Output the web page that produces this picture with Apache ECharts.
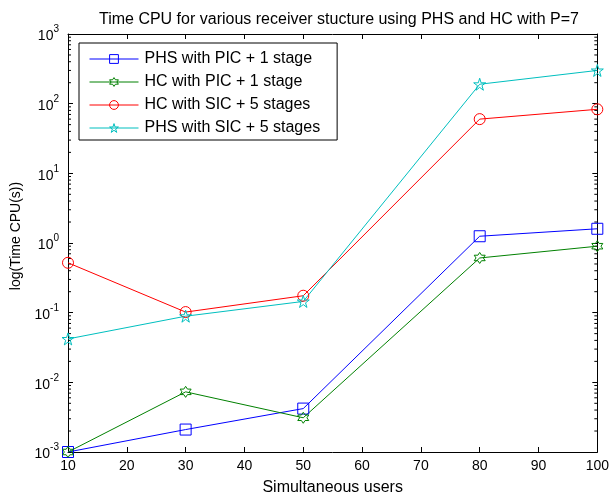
<!DOCTYPE html>
<html><head><meta charset="utf-8">
<script src="https://cdn.jsdelivr.net/npm/echarts@6/dist/echarts.min.js"></script>
<style>html,body{margin:0;padding:0;background:#fff}#c{width:612px;height:501px}</style>
</head><body><div id="c"></div>
<script>
const users = [10, 30, 50, 80, 100];
const phsPic = [0.001, 0.0021, 0.0042, 1.25, 1.6];
const hcPic = [0.001, 0.0073, 0.0031, 0.61, 0.9];
const hcSic = [0.52, 0.102, 0.175, 60, 83];
const phsSic = [0.042, 0.089, 0.145, 190, 300];
const xTicks = [10, 20, 30, 40, 50, 60, 70, 80, 90, 100];
const yDecades = [-3, -2, -1, 0, 1, 2, 3];
const names = ['PHS with PIC + 1 stage', 'HC with PIC + 1 stage', 'HC with SIC + 5 stages', 'PHS with SIC + 5 stages'];

const starPath = 'path://M50,0L61.2,34.6L97.6,34.5L68.1,55.9L79.4,90.5L50,69L20.6,90.5L31.9,55.9L2.4,34.5L38.8,34.6Z';
const hexPath = 'path://M50,0L64.4,25L93.3,25L78.9,50L93.3,75L64.4,75L50,100L35.6,75L6.7,75L21.1,50L6.7,25L35.6,25Z';

const minorVals = [];
for (let e = -3; e < 3; e++) for (let m = 2; m <= 9; m++) minorVals.push([10, m * Math.pow(10, e)]);

function pair(xs, ys) { return xs.map((x, i) => [x, ys[i]]); }
function mk(name, data, color, symbol, size) {
  return {
    name, type: 'line', data, symbol, symbolSize: size, showSymbol: true, color,
    lineStyle: { color, width: 1 },
    itemStyle: { color: 'rgba(0,0,0,0)', borderColor: color, borderWidth: 1 },
    emphasis: { disabled: true }, animation: false, z: 3
  };
}
const FONT = 'Liberation Sans, Arial, Helvetica, sans-serif';
const chart = echarts.init(document.getElementById('c'), null, { renderer: 'canvas' });
chart.setOption({
  backgroundColor: '#fff',
  animation: false,
  title: { text: 'Time CPU for various receiver stucture using PHS and HC with P=7', left: 334, textAlign: 'center', top: 7,
    textStyle: { fontFamily: FONT, fontSize: 16, fontWeight: 'normal', color: '#000' } },
  grid: { left: 68, right: 12, top: 34, bottom: 45, show: false },
  legend: {
    data: names, orient: 'vertical', left: 79, top: 43, itemWidth: 49, itemHeight: 11, itemGap: 7,
    padding: [8, 17, 4, 10], borderColor: '#000', borderWidth: 1, backgroundColor: '#fff',
    lineStyle: { width: 1 },
    itemStyle: { color: 'rgba(0,0,0,0)', borderWidth: 1 },
    textStyle: { fontFamily: FONT, fontSize: 16, color: '#000', padding: [0, 0, 0, 1] }, selectedMode: false
  },
  xAxis: [
    { type: 'value', min: 10, max: 100, interval: 10, position: 'bottom',
      name: 'Simultaneous users', nameLocation: 'middle', nameGap: 28,
      nameTextStyle: { fontFamily: FONT, fontSize: 16, color: '#000' },
      axisLine: { show: true, lineStyle: { color: '#000', width: 1 } },
      axisTick: { show: true, inside: true, length: 5, lineStyle: { color: '#000' } },
      axisLabel: { fontFamily: FONT, fontSize: 14, color: '#000', margin: 7, showMinLabel: true, showMaxLabel: true },
      splitLine: { show: false } },
    { type: 'value', min: 10, max: 100, interval: 10, position: 'top',
      axisLine: { show: true, lineStyle: { color: '#000', width: 1 } },
      axisTick: { show: true, inside: true, length: 5, lineStyle: { color: '#000' } },
      axisLabel: { show: false }, splitLine: { show: false } }
  ],
  yAxis: [
    { type: 'log', logBase: 10, min: 0.001, max: 1000, splitNumber: 6, position: 'left',
      name: 'log(Time CPU(s))', nameLocation: 'middle', nameGap: 45, nameRotate: 90,
      nameTextStyle: { fontFamily: FONT, fontSize: 14, color: '#000', padding: [0, 0, 0, 14] },
      axisLine: { show: true, lineStyle: { color: '#000', width: 1 } },
      axisTick: { show: true, inside: true, length: 5, lineStyle: { color: '#000' } },
      axisLabel: { margin: 9, showMinLabel: true, showMaxLabel: true,
        formatter: v => '{b|10}{s|' + Math.round(Math.log10(v)) + '}',
        rich: { b: { fontFamily: FONT, fontSize: 14, color: '#000', verticalAlign: 'bottom' },
                s: { fontFamily: FONT, fontSize: 10, color: '#000', verticalAlign: 'top', padding: [0, 0, 9, 0] } } },
      splitLine: { show: false } },
    { type: 'log', logBase: 10, min: 0.001, max: 1000, splitNumber: 6, position: 'right',
      axisLine: { show: true, lineStyle: { color: '#000', width: 1 } },
      axisTick: { show: true, inside: true, length: 5, lineStyle: { color: '#000' } },
      axisLabel: { show: false }, splitLine: { show: false } }
  ],
  series: [
    mk(names[0], pair(users, phsPic), '#0000ff', 'rect', 11),
    mk(names[1], pair(users, hcPic), '#008000', hexPath, 11),
    mk(names[2], pair(users, hcSic), '#ff0000', 'circle', 11),
    mk(names[3], pair(users, phsSic), '#00bfbf', starPath, 12),
    { type: 'custom', silent: true, z: 2, data: minorVals, clip: false,
      renderItem: (params, api) => {
        const y = api.value(1);
        const pl = api.coord([10, y]);
        const pr = api.coord([100, y]);
        return { type: 'group', children: [
          { type: 'line', shape: { x1: pl[0], y1: pl[1], x2: pl[0] + 3, y2: pl[1] }, style: { stroke: '#000', lineWidth: 1 } },
          { type: 'line', shape: { x1: pr[0] - 3, y1: pr[1], x2: pr[0], y2: pr[1] }, style: { stroke: '#000', lineWidth: 1 } }
        ] };
      } }
  ]
});
</script></body></html>
